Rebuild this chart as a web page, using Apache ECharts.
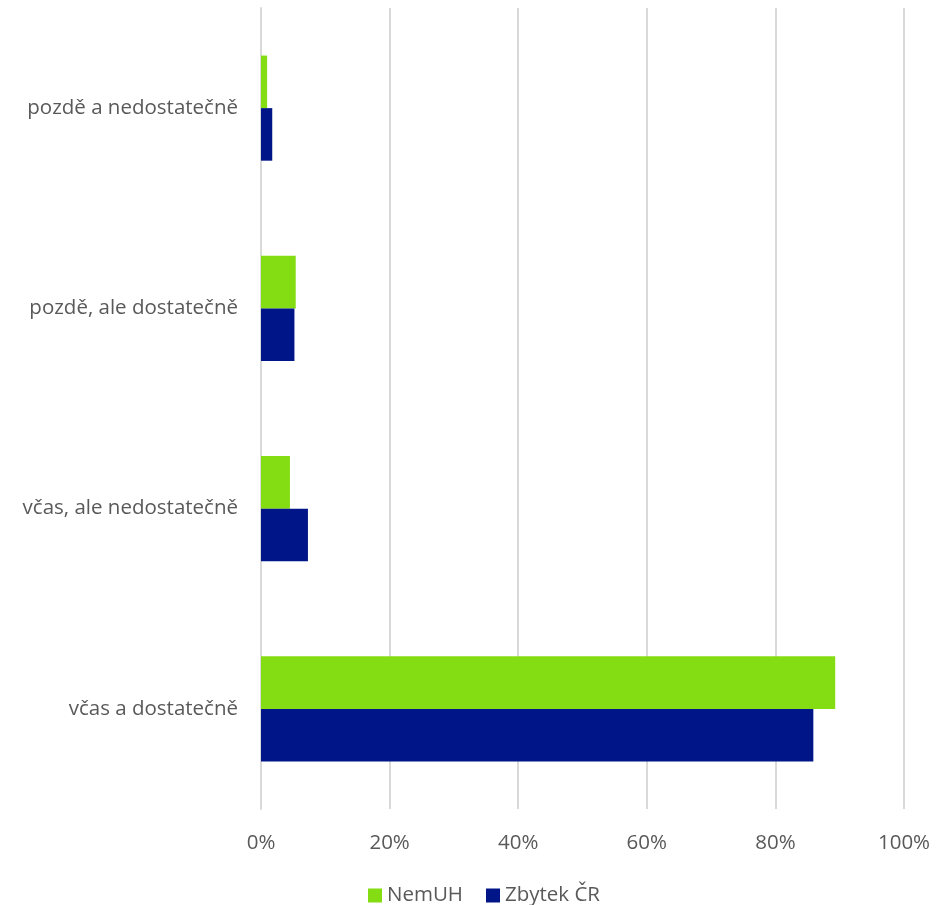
<!DOCTYPE html>
<html><head><meta charset="utf-8">
<script src="https://cdn.jsdelivr.net/npm/echarts@6/dist/echarts.min.js"></script>
<style>html,body{margin:0;padding:0;background:#fff}#c{width:938px;height:905px}</style>
</head><body><div id="c"></div>
<script>
const categories = ["včas a dostatečně", "včas, ale nedostatečně", "pozdě, ale dostatečně", "pozdě a nedostatečně"];
const nemUH = [89.3, 4.5, 5.4, 0.95];
const zbytekCR = [85.9, 7.3, 5.2, 1.75];
const xTicks = [0, 20, 40, 60, 80, 100];

const font = "Open Sans";
const chart = echarts.init(document.getElementById('c'), null, {renderer: 'canvas'});
chart.setOption({
  animation: false,
  grid: {left: 261, right: 34, top: 8, bottom: 96, containLabel: false},
  legend: {
    data: ['NemUH', 'Zbytek ČR'],
    top: 885, left: 368, padding: 0,
    itemWidth: 14, itemHeight: 14, itemGap: 23,
    icon: 'rect',
    textStyle: {fontFamily: font, fontSize: 20.5, color: '#595959'}
  },
  xAxis: {
    type: 'value', min: 0, max: 100, interval: 20,
    axisLine: {show: false}, axisTick: {show: false},
    splitLine: {lineStyle: {color: '#d9d9d9', width: 2}},
    axisLabel: {formatter: v => xTicks.includes(v) ? v + '%' : '', margin: 24,
      fontFamily: font, fontSize: 20.5, color: '#595959'}
  },
  yAxis: {
    type: 'category', data: categories,
    axisLine: {show: true, lineStyle: {color: '#d9d9d9', width: 2}},
    axisTick: {show: false},
    axisLabel: {margin: 23, fontFamily: font, fontSize: 20.5, color: '#595959'}
  },
  series: [
    {name: 'NemUH', type: 'bar', data: nemUH, itemStyle: {color: '#84dc12'},
     barGap: '0%', barCategoryGap: '47.5%'},
    {name: 'Zbytek ČR', type: 'bar', data: zbytekCR, itemStyle: {color: '#001588'},
     barGap: '0%', barCategoryGap: '47.5%'}
  ]
});
</script></body></html>
